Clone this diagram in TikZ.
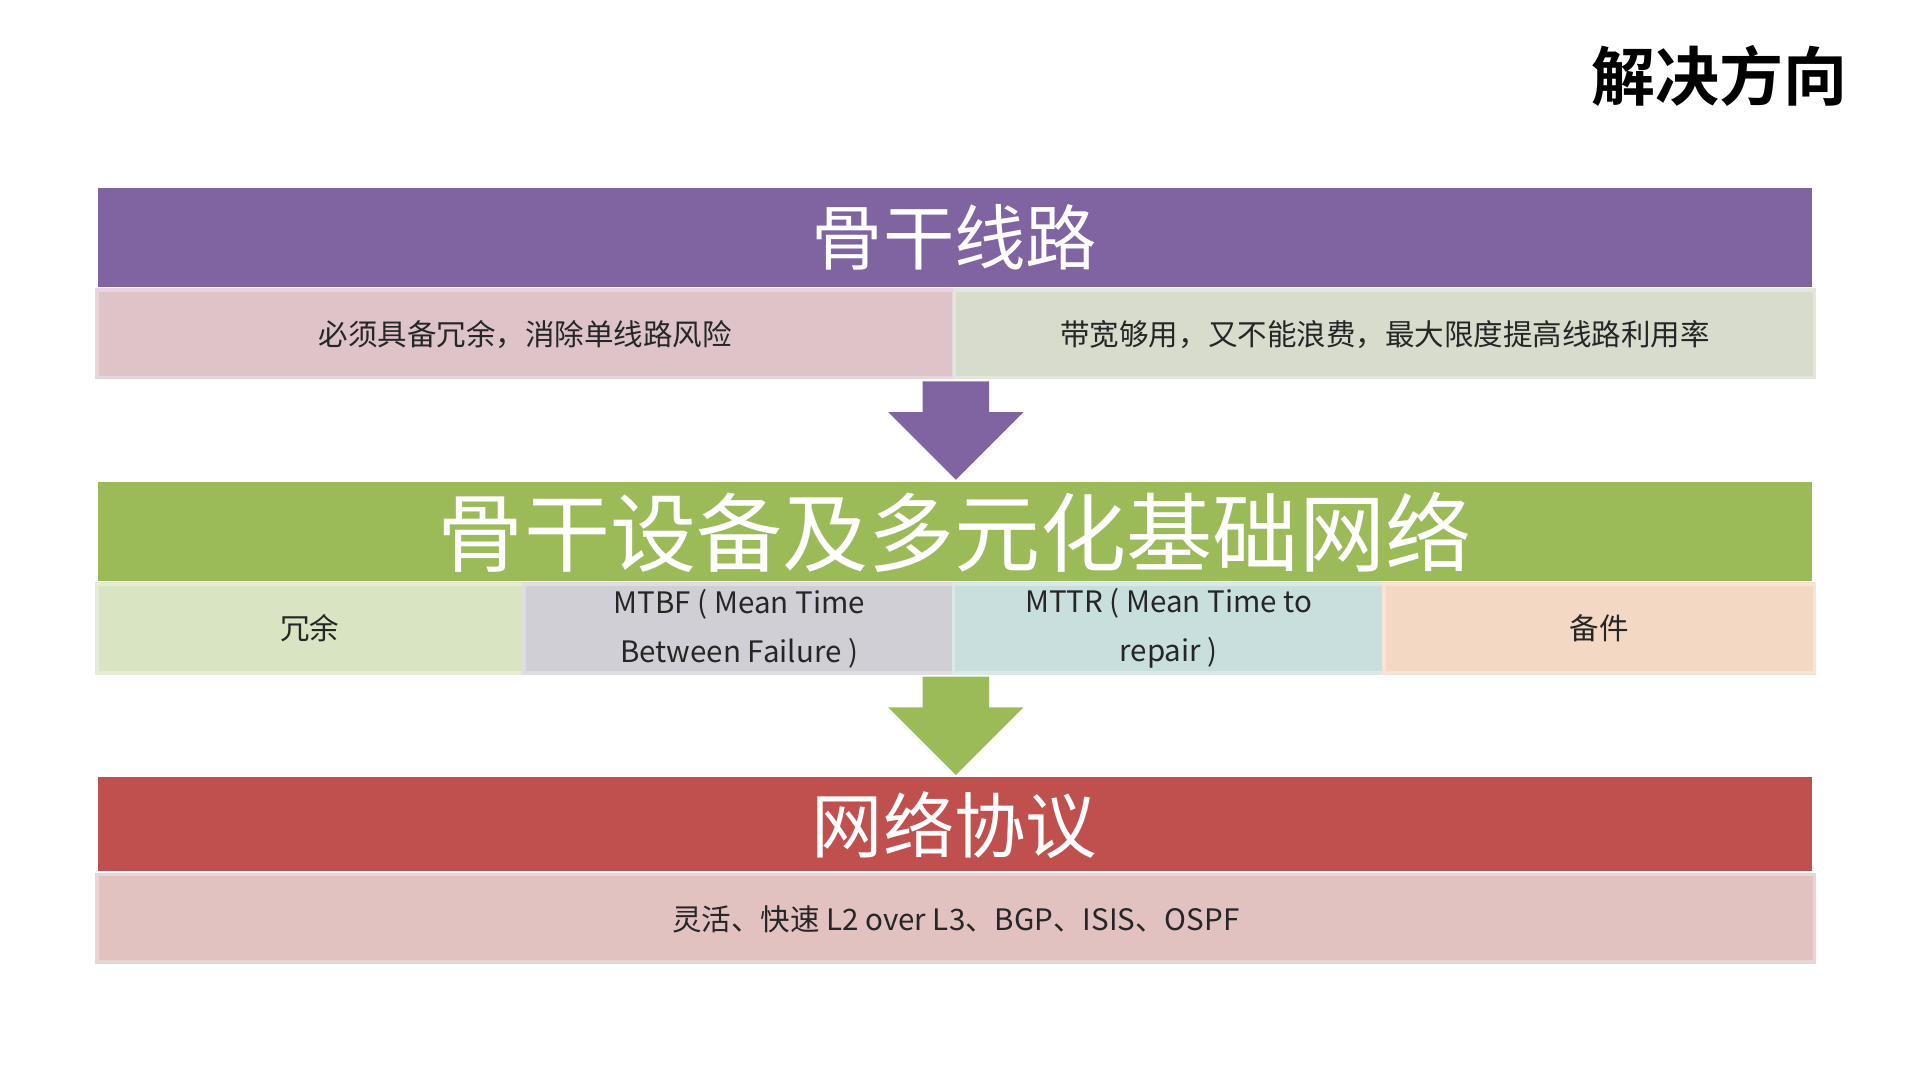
\documentclass[tikz,border=0pt]{standalone}
\usepackage{fontspec}
\setmainfont{Noto Sans CJK SC}
\newfontfamily\cjkbold{Noto Sans CJK SC Bold}
\definecolor{purp}{HTML}{8064A2}
\definecolor{grn}{HTML}{9BBB59}
\definecolor{red1}{HTML}{C0504D}
\definecolor{pinkc}{HTML}{DEC3C9}
\definecolor{graygc}{HTML}{D7DCCC}
\definecolor{lgreen}{HTML}{D8E4C2}
\definecolor{lgray}{HTML}{D1CFD6}
\definecolor{lteal}{HTML}{C9DFDE}
\definecolor{peach}{HTML}{F3D9C3}
\definecolor{rpink}{HTML}{E2C1C1}
\begin{document}
\begin{tikzpicture}[x=1pt,y=-1pt,
  bar/.style={inner sep=0pt,text=white,font=\fontsize{58}{60}\selectfont},
  cell/.style={draw=#1!70!white,fill=#1,line width=3pt},
  ctext/.style={font=\fontsize{24}{40}\selectfont,align=center,text=black!85}]
\useasboundingbox (0,0) rectangle (1560,877);
\node[font=\cjkbold\fontsize{52}{56}\selectfont] (title) at (1398,62) {解决方向};
% purple
\fill[purp] (80,153) rectangle (1473,233);
\node[bar] (t1) at (776,193) {骨干线路};
\filldraw[cell=pinkc] (79,236) rectangle (775,307);
\filldraw[cell=graygc] (776,236) rectangle (1475,307);
\node[ctext] (a1) at (427,272) {必须具备冗余，消除单线路风险};
\node[ctext] (a2) at (1126,272) {带宽够用，又不能浪费，最大限度提高线路利用率};
\fill[purp] (750,310) -- (804,310) -- (804,335) -- (832,335) -- (777,390) -- (722,335) -- (750,335) -- cycle;
% green
\fill[grn] (80,392) rectangle (1473,472);
\node[bar,font=\fontsize{70}{72}\selectfont] (t2) at (776,433) {骨干设备及多元化基础网络};
\filldraw[cell=lgreen] (79,475) rectangle (426,547);
\filldraw[cell=lgray] (426,475) rectangle (775,547);
\filldraw[cell=lteal] (775,475) rectangle (1125,547);
\filldraw[cell=peach] (1125,475) rectangle (1475,547);
\node[ctext] (b1) at (252,511) {冗余};
\node[ctext] (b2) at (601,511) {MTBF ( Mean Time\\Between Failure )};
\node[ctext] (b3) at (950,511) {MTTR ( Mean Time to\\repair )};
\node[ctext] (b4) at (1300,511) {备件};
\fill[grn] (750,550) -- (804,550) -- (804,575) -- (832,575) -- (777,630) -- (722,575) -- (750,575) -- cycle;
% red
\fill[red1] (80,632) rectangle (1473,708);
\node[bar] (t3) at (776,671) {网络协议};
\filldraw[cell=rpink] (79,711) rectangle (1475,782);
\node[ctext] (c1) at (777,747) {灵活、快速 L2 over L3、BGP、ISIS、OSPF};
\end{tikzpicture}
\end{document}
